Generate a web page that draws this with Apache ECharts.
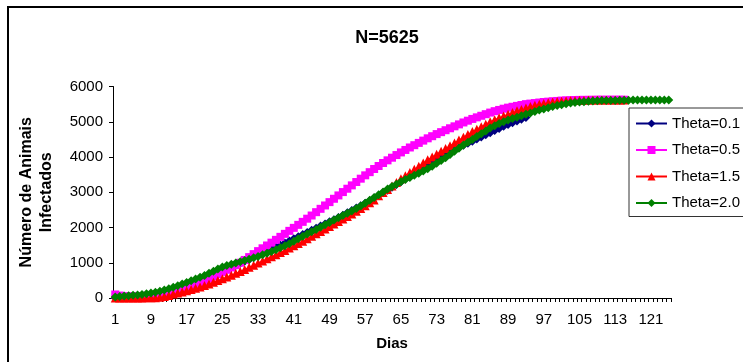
<!DOCTYPE html>
<html>
<head>
<meta charset="utf-8">
<script src="https://cdn.jsdelivr.net/npm/echarts@6/dist/echarts.min.js"></script>
<style>
html,body{margin:0;padding:0;background:#fff;}
#chart{width:743px;height:362px;}
</style>
</head>
<body>
<div id="chart"></div>
<script>
var titleText = 'N=5625';
var xName = 'Dias';
var yName = 'Número de Animais\nInfectados';
var seriesNames = ['Theta=0.1', 'Theta=0.5', 'Theta=1.5', 'Theta=2.0'];

var days = [];
for (var i = 1; i <= 125; i++) days.push(String(i));

var theta01 = [10,15,20,25,30,40,50,65,80,100,125,155,190,230,270,315,360,405,450,500,
550,600,655,710,765,820,875,930,985,1040,1095,1150,1205,1260,1320,1380,1440,1500,1560,1620,
1680,1740,1800,1860,1920,1980,2040,2100,2160,2220,2285,2350,2415,2480,2550,2620,2690,2760,2835,2910,
2985,3060,3140,3220,3300,3380,3460,3540,3620,3700,3780,3860,3940,4010,4080,4150,4210,4270,4330,4390,
4450,4510,4570,4630,4690,4750,4810,4870,4920,4970,5020,5070,5120];

var theta05 = [100,70,50,45,45,50,55,65,75,90,105,125,150,175,205,240,280,330,380,435,
490,550,610,675,740,800,865,930,1000,1080,1160,1245,1330,1410,1490,1570,1650,1735,1820,1905,
1990,2075,2160,2250,2340,2435,2530,2625,2720,2815,2910,3005,3100,3195,3290,3385,3480,3570,3660,3745,
3830,3905,3980,4055,4130,4200,4270,4335,4400,4465,4530,4590,4650,4705,4760,4815,4870,4925,4980,5030,
5080,5125,5170,5215,5260,5300,5335,5370,5400,5425,5450,5475,5500,5515,5530,5545,5560,5570,5580,5590,
5600,5605,5610,5615,5620,5620,5622,5622,5625,5625,5625,5625,5625,5625,5625];

var theta15 = [0,0,0,0,0,0,0,5,8,10,20,40,70,110,140,170,205,240,275,315,
355,400,445,495,545,595,645,700,755,810,870,930,990,1050,1110,1170,1230,1290,1350,1415,
1480,1545,1610,1680,1750,1820,1890,1960,2030,2100,2170,2240,2310,2385,2460,2540,2620,2700,2780,2900,
2990,3080,3180,3280,3380,3470,3560,3650,3740,3830,3920,4000,4080,4160,4240,4320,4400,4480,4560,4640,
4720,4790,4860,4930,5000,5060,5110,5160,5210,5260,5310,5350,5390,5430,5465,5495,5520,5540,5560,5575,
5585,5595,5600,5605,5610,5612,5615,5615,5618,5620,5620,5620,5620,5620,5620];

var theta20 = [30,45,55,65,75,85,100,120,140,165,195,230,265,305,350,395,440,490,540,590,
640,700,760,820,880,920,960,995,1030,1065,1100,1140,1180,1225,1270,1320,1370,1425,1480,1540,
1610,1680,1750,1815,1880,1945,2010,2075,2140,2210,2275,2340,2405,2470,2540,2610,2690,2770,2850,2930,
3010,3090,3160,3230,3300,3360,3420,3480,3540,3600,3670,3740,3820,3900,3980,4070,4160,4250,4340,4420,
4500,4580,4660,4740,4820,4890,4950,5000,5050,5090,5130,5170,5210,5250,5290,5330,5365,5400,5430,5460,
5485,5510,5530,5545,5560,5570,5580,5590,5595,5600,5600,5605,5605,5610,5610,5610,5615,5615,5615,5620,
5620,5620,5620,5620,5620];

var yTicks = [0, 1000, 2000, 3000, 4000, 5000, 6000];

var colors = ['#000080', '#FF00FF', '#FF0000', '#008000'];
var symbols = ['diamond', 'rect', 'triangle', 'diamond'];
var datasets = [theta01, theta05, theta15, theta20];

var FONT = '"Liberation Sans", Arial, sans-serif';

var chart = echarts.init(document.getElementById('chart'), null, {renderer: 'canvas'});
var series = seriesNames.map(function (n, k) {
  return {
    name: n,
    type: 'line',
    data: datasets[k],
    symbol: symbols[k],
    symbolSize: k === 1 ? 8 : 9,
    showAllSymbol: true,
    color: colors[k],
    lineStyle: {width: 1, color: colors[k]},
    itemStyle: {color: colors[k]},
    emphasis: {disabled: true}
  };
});

chart.setOption({
  animation: false,
  backgroundColor: '#fff',
  title: {
    text: titleText,
    left: 382,
    top: 24,
    textAlign: 'center',
    textStyle: {fontFamily: FONT, fontWeight: 'bold', fontSize: 18, color: '#000'}
  },
  graphic: [{
    type: 'rect',
    shape: {x: 8, y: 7, width: 800, height: 400},
    style: {fill: 'none', stroke: '#000', lineWidth: 2},
    silent: true,
    z: 100
  }],
  legend: {
    orient: 'vertical',
    left: 629,
    top: 108,
    data: seriesNames,
    backgroundColor: '#fff',
    borderColor: '#333',
    borderWidth: 1,
    borderRadius: 0,
    padding: [8, 10, 6, 6],
    itemGap: 11.5,
    itemWidth: 31,
    itemHeight: 10,
    textStyle: {fontFamily: FONT, fontSize: 15, color: '#000'}
  },
  grid: {left: 113, right: 72, top: 86.5, bottom: 64, containLabel: false},
  xAxis: {
    type: 'category',
    data: days,
    boundaryGap: true,
    name: xName,
    nameLocation: 'middle',
    nameGap: 38,
    nameTextStyle: {fontFamily: FONT, fontWeight: 'bold', fontSize: 15, color: '#000'},
    axisLine: {lineStyle: {color: '#000', width: 1}},
    axisTick: {show: true, interval: 0, length: 4, lineStyle: {color: '#000'}},
    axisLabel: {interval: 7, margin: 14, fontFamily: FONT, fontSize: 15, color: '#000'},
    splitLine: {show: false}
  },
  yAxis: {
    type: 'value',
    min: yTicks[0],
    max: yTicks[yTicks.length - 1],
    interval: 1000,
    name: yName,
    nameLocation: 'middle',
    nameRotate: 90,
    nameGap: 56,
    nameTextStyle: {fontFamily: FONT, fontWeight: 'bold', fontSize: 16, color: '#000', lineHeight: 20},
    axisLine: {show: true, lineStyle: {color: '#000', width: 1}},
    axisTick: {show: true, length: 4, lineStyle: {color: '#000'}},
    axisLabel: {margin: 10, fontFamily: FONT, fontSize: 15, color: '#000',
      formatter: function (v) { return String(v); }},
    splitLine: {show: false}
  },
  series: series
});
</script>
</body>
</html>
